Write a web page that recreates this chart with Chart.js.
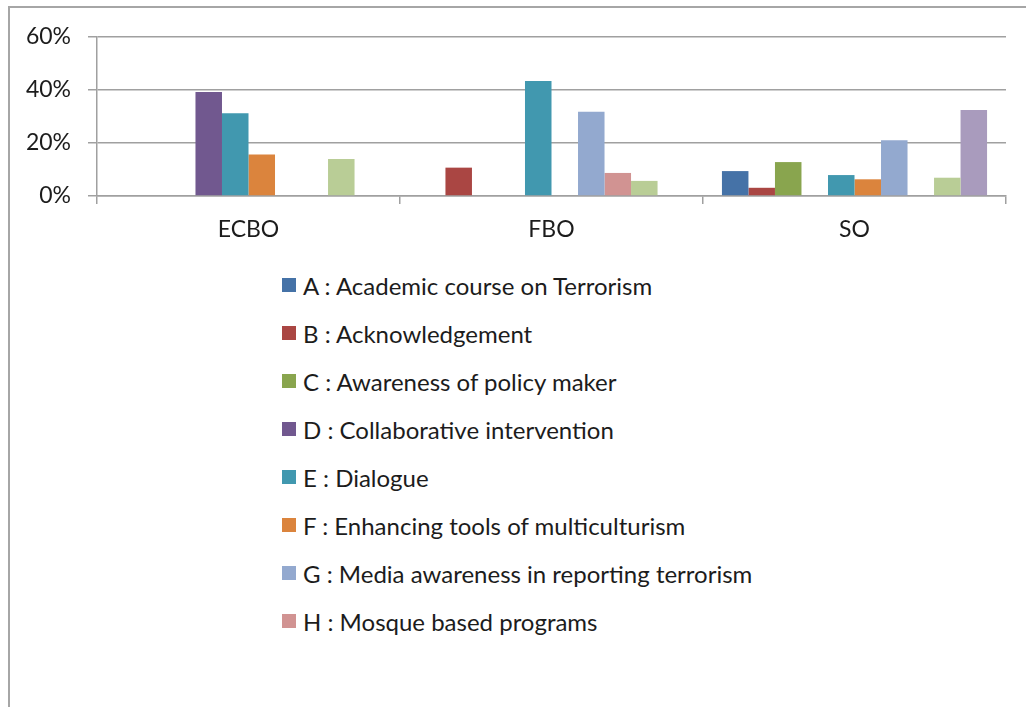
<!DOCTYPE html>
<html>
<head>
<meta charset="utf-8">
<script src="https://cdn.jsdelivr.net/npm/chart.js@4.4.1/dist/chart.umd.min.js"></script>
<style>
  html, body { margin: 0; padding: 0; background: #fff; width: 1026px; height: 707px; overflow: hidden; }
  #frame { position: absolute; left: 8px; top: 6px; width: 1030px; height: 720px;
           border-top: 2px solid #a6a6a6; border-left: 2px solid #a6a6a6; box-sizing: border-box; }
  #wrap { position: absolute; left: 0; top: 0; width: 1026px; height: 260px; }
  #legend { position: absolute; left: 282px; top: 261px; font-family: Lato, sans-serif; font-size: 24px; color: #1c1c1c; }
  .item { height: 48px; display: flex; align-items: center; white-space: nowrap; }
  .box { width: 14px; height: 14px; margin-right: 7px; flex: none; }
</style>
</head>
<body>
<div id="frame"></div>
<div id="wrap"><canvas id="chart"></canvas></div>
<div id="legend"></div>
<script>
(function() {

  const categories = ['ECBO', 'FBO', 'SO'];

  // one value per category, percent
  const seriesA = [0, 0, 9.4];
  const seriesB = [0, 10.7, 3.1];
  const seriesC = [0, 0, 12.8];
  const seriesD = [39.2, 0, 0];
  const seriesE = [31.2, 43.4, 7.9];
  const seriesF = [15.7, 0, 6.3];
  const seriesG = [0, 31.8, 21.0];
  const seriesH = [0, 8.7, 0];
  const seriesI = [14.0, 5.7, 6.9];
  const seriesJ = [0, 0, 32.5];

  const seriesNames = [
    'A : Academic course on Terrorism',
    'B : Acknowledgement',
    'C : Awareness of policy maker',
    'D : Collaborative intervention',
    'E : Dialogue',
    'F : Enhancing tools of multiculturism',
    'G : Media awareness in reporting terrorism',
    'H : Mosque based programs',
    'I',
    'J'
  ];
  // the legend in the picture is cut off after H
  const legendCount = 8;

  const yTicks = [0, 20, 40, 60];

  const colors = ['#4572A7', '#AA4643', '#89A54E', '#71588F', '#4198AF',
                  '#DB843D', '#93A9CF', '#D19392', '#B9CD96', '#A99BBD'];

  const allSeries = [seriesA, seriesB, seriesC, seriesD, seriesE,
                     seriesF, seriesG, seriesH, seriesI, seriesJ];

  const datasets = allSeries.map((vals, i) => ({
    label: seriesNames[i],
    data: vals,
    backgroundColor: colors[i],
    borderWidth: 0,
    barPercentage: 1.0,
    categoryPercentage: 0.875
  }));

  const font = { family: 'Lato, sans-serif', size: 23 };

  const chart = new Chart(document.getElementById('chart'), {
    type: 'bar',
    data: { labels: categories, datasets: datasets },
    options: {
      responsive: true,
      maintainAspectRatio: false,
      animation: false,
      layout: { padding: { left: 0, right: 20, top: 37, bottom: 14 } },
      plugins: { legend: { display: false }, tooltip: { enabled: false } },
      scales: {
        x: {
          grid: { drawOnChartArea: false, drawTicks: true, tickLength: 8, color: '#a0a0a0', lineWidth: 1.5 },
          border: { display: true, color: '#a0a0a0', width: 1.5 },
          ticks: { font: font, color: '#1c1c1c', padding: 12, maxRotation: 0 },
          afterFit: (s) => { s.height = 50; }
        },
        y: {
          min: 0,
          max: 60,
          afterBuildTicks: (s) => { s.ticks = yTicks.map(v => ({ value: v })); },
          grid: { color: '#a0a0a0', lineWidth: 1.5, tickLength: 9 },
          border: { display: true, color: '#a0a0a0', width: 1.5 },
          ticks: { font: font, color: '#1c1c1c', padding: 17, callback: (v) => v + '%' },
          afterFit: (s) => { s.width = 97; }
        }
      }
    }
  });

  const legend = document.getElementById('legend');
  chart.data.datasets.slice(0, legendCount).forEach(ds => {
    const item = document.createElement('div');
    item.className = 'item';
    const box = document.createElement('span');
    box.className = 'box';
    box.style.background = ds.backgroundColor;
    const txt = document.createElement('span');
    txt.textContent = ds.label;
    item.appendChild(box);
    item.appendChild(txt);
    legend.appendChild(item);
  });

})();
</script>
</body>
</html>
